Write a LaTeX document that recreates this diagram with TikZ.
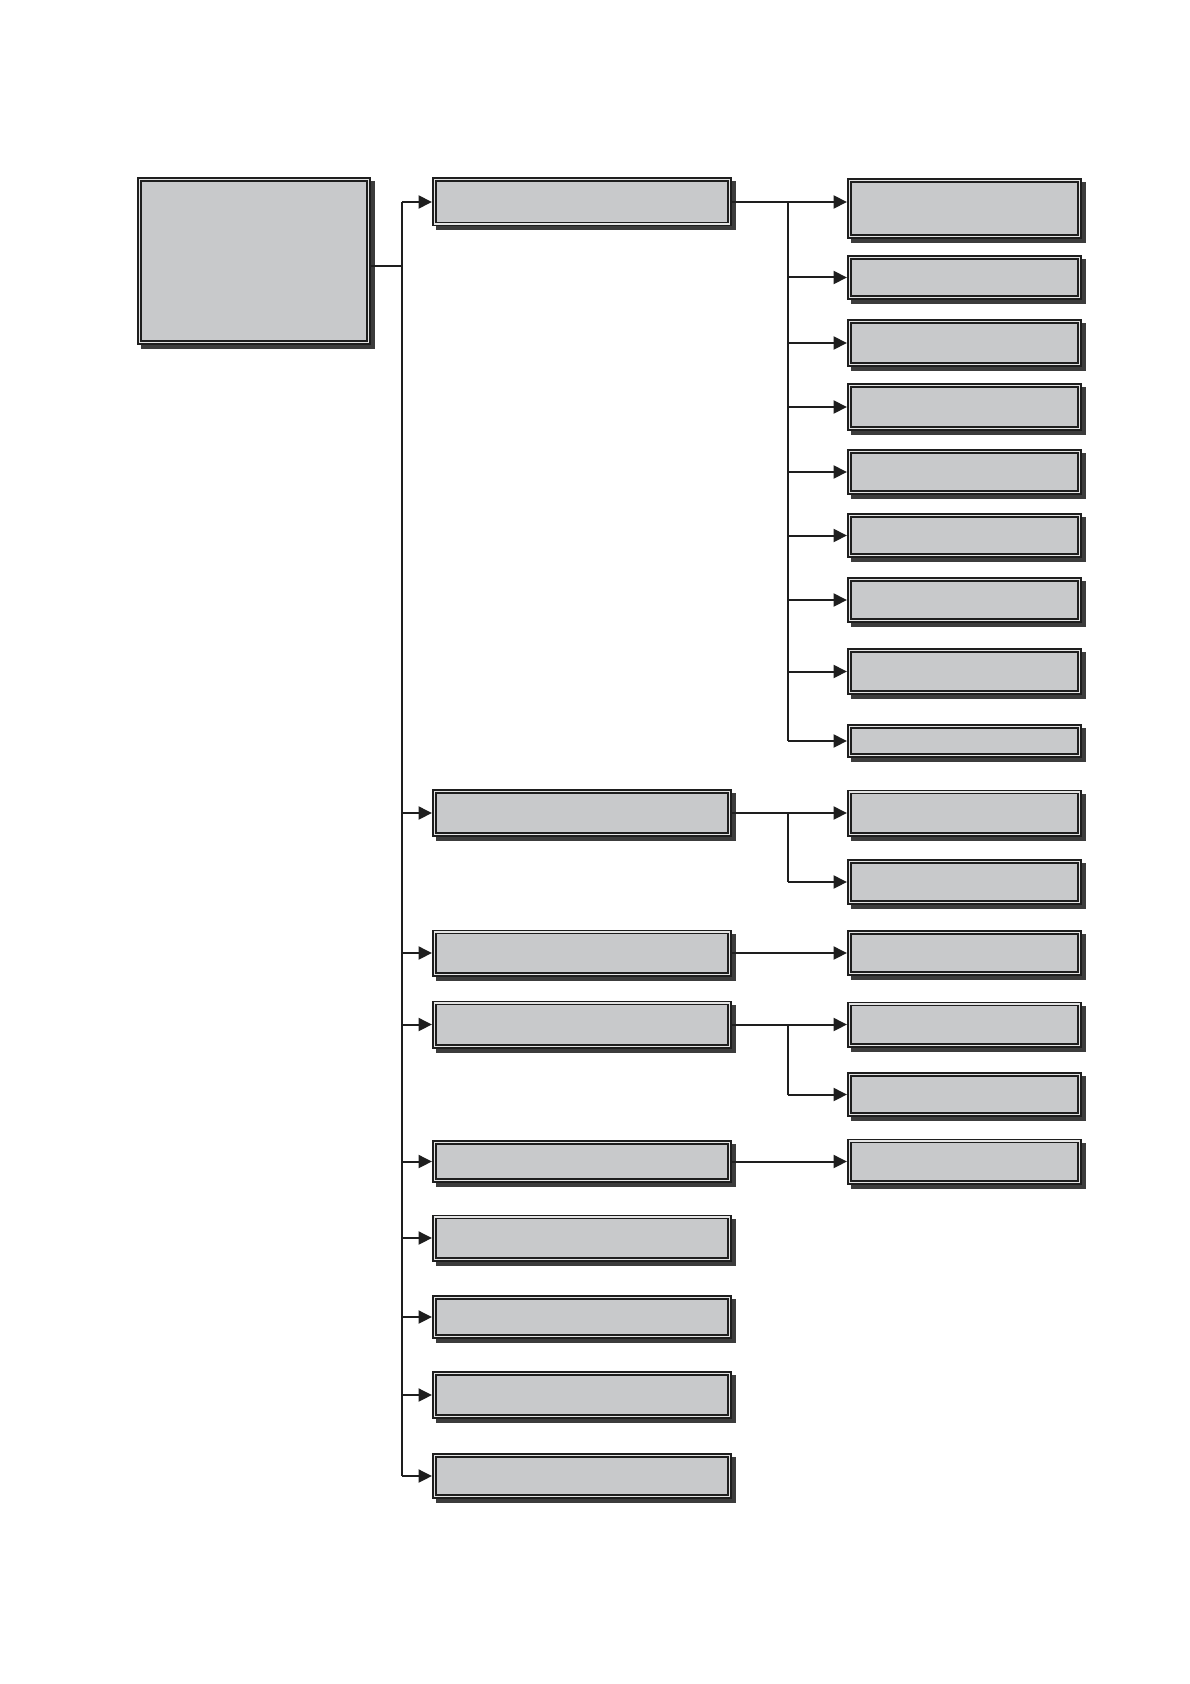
\documentclass[tikz,border=0pt]{standalone}
\usepackage{xcolor}
\usepackage{tikz}
\usetikzlibrary{arrows.meta,shadows}
\definecolor{boxgray}{HTML}{C8C9CB}
\definecolor{boxline}{HTML}{1E1E1E}
\definecolor{boxgap}{HTML}{E4E4E4}
\definecolor{boxshade}{HTML}{3C3C3C}

\begin{document}
\begin{tikzpicture}[x=0.2mm, y=-0.2mm,
  box/.style={draw=boxline, line width=0.35mm, double=boxgap, double distance=0.25mm, fill=boxgray, inner sep=0pt, outer sep=0.475mm,
    drop shadow={shadow xshift=0.8mm, shadow yshift=-0.8mm, opacity=1, fill=boxshade, draw=boxshade, line width=0.95mm}},
  secbox/.style={box, minimum width=59.05mm},
  subbox/.style={box, minimum width=46.05mm},
  link/.style={draw=boxline, line width=0.4mm},
  arr/.style={link, -{Triangle[length=2.7mm,width=2.6mm]}}]
  \useasboundingbox (0,0) rectangle (1190,1684);
  \coordinate (tk) at (402,0);
  \coordinate (bk) at (788,0);
  % left box
  \node[box, minimum width=45.85mm, minimum height=32.65mm] (main) at (254,261) {};
  \coordinate (mainout) at ([yshift=-1mm]main.east);
  % middle column
  \node[secbox, minimum height=8.85mm] (sec1) at (582,202) {};
  \node[secbox, minimum height=8.65mm] (sec2) at (582,813) {};
  \node[secbox, minimum height=8.45mm] (sec3) at (582,953) {};
  \node[secbox, minimum height=8.65mm] (sec4) at (582,1024.5) {};
  \node[secbox, minimum height=7.65mm] (sec5) at (582,1161.5) {};
  \node[secbox, minimum height=8.45mm] (sec6) at (582,1238) {};
  \node[secbox, minimum height=7.85mm] (sec7) at (582,1317) {};
  \node[secbox, minimum height=8.65mm] (sec8) at (582,1395) {};
  \node[secbox, minimum height=8.25mm] (sec9) at (582,1476) {};
  % right column
  \node[subbox, minimum height=11.25mm] (sub1) at (964.5,208.5) {};
  \node[subbox, minimum height=8.05mm] (sub2) at (964.5,277.5) {};
  \node[subbox, minimum height=8.65mm] (sub3) at (964.5,343) {};
  \node[subbox, minimum height=8.65mm] (sub4) at (964.5,407) {};
  \node[subbox, minimum height=8.25mm] (sub5) at (964.5,472) {};
  \node[subbox, minimum height=8.05mm] (sub6) at (964.5,535.5) {};
  \node[subbox, minimum height=8.25mm] (sub7) at (964.5,600) {};
  \node[subbox, minimum height=8.45mm] (sub8) at (964.5,671.5) {};
  \node[subbox, minimum height=5.85mm] (sub9) at (964.5,741) {};
  \node[subbox, minimum height=8.45mm] (sub10) at (964.5,813) {};
  \node[subbox, minimum height=8.25mm] (sub11) at (964.5,882) {};
  \node[subbox, minimum height=8.25mm] (sub12) at (964.5,953) {};
  \node[subbox, minimum height=8.25mm] (sub13) at (964.5,1024.5) {};
  \node[subbox, minimum height=8.05mm] (sub14) at (964.5,1094.5) {};
  \node[subbox, minimum height=8.25mm] (sub15) at (964.5,1161.5) {};
  % trunk
  \draw[link] (mainout) -- (tk |- mainout);
  \draw[link] (tk |- sec1) -- (tk |- sec9);
  \draw[arr] (tk |- sec1) -- (sec1);
  \draw[arr] (tk |- sec2) -- (sec2);
  \draw[arr] (tk |- sec3) -- (sec3);
  \draw[arr] (tk |- sec4) -- (sec4);
  \draw[arr] (tk |- sec5) -- (sec5);
  \draw[arr] (tk |- sec6) -- (sec6);
  \draw[arr] (tk |- sec7) -- (sec7);
  \draw[arr] (tk |- sec8) -- (sec8);
  \draw[arr] (tk |- sec9) -- (sec9);
  % branches
  \draw[link] (sec1) -- (bk |- sec1) -- (bk |- sub9);
  \draw[arr] (bk |- sec1) -- (sub1.west |- sec1);
  \draw[arr] (bk |- sub2) -- (sub2);
  \draw[arr] (bk |- sub3) -- (sub3);
  \draw[arr] (bk |- sub4) -- (sub4);
  \draw[arr] (bk |- sub5) -- (sub5);
  \draw[arr] (bk |- sub6) -- (sub6);
  \draw[arr] (bk |- sub7) -- (sub7);
  \draw[arr] (bk |- sub8) -- (sub8);
  \draw[arr] (bk |- sub9) -- (sub9);
  \draw[link] (sec2) -- (bk |- sec2) -- (bk |- sub11);
  \draw[arr] (bk |- sub10) -- (sub10);
  \draw[arr] (bk |- sub11) -- (sub11);
  \draw[arr] (sec3) -- (sub12);
  \draw[link] (sec4) -- (bk |- sec4) -- (bk |- sub14);
  \draw[arr] (bk |- sub13) -- (sub13);
  \draw[arr] (bk |- sub14) -- (sub14);
  \draw[arr] (sec5) -- (sub15);
\end{tikzpicture}
\end{document}
